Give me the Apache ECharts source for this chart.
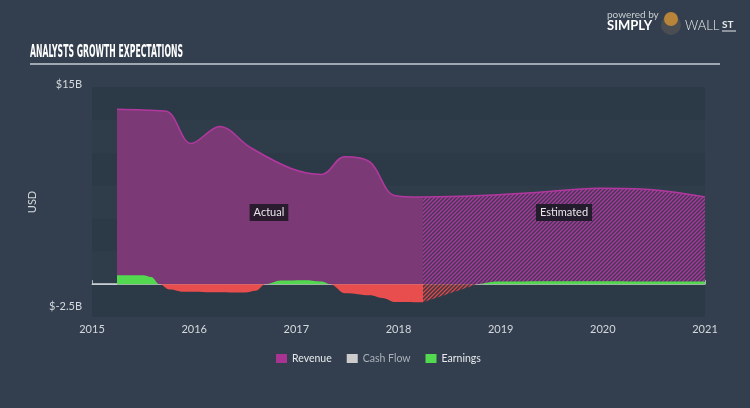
<!DOCTYPE html>
<html>
<head>
<meta charset="utf-8">
<script src="https://cdn.jsdelivr.net/npm/echarts@6/dist/echarts.min.js"></script>
<style>
html,body{margin:0;padding:0;background:#333f4e;}
#chart{width:750px;height:408px;}
</style>
</head>
<body>
<div id="chart"></div>
<script>
// ---- Data ----
const yearTicks = [2015, 2016, 2017, 2018, 2019, 2020, 2021];
const revenueActual = [
  [2015.245, 13.3], [2015.5, 13.25], [2015.73, 13.15], [2015.97, 10.7],
  [2016.25, 12.0], [2016.55, 10.4], [2016.95, 8.8], [2017.25, 8.35],
  [2017.47, 9.7], [2017.72, 9.3], [2017.96, 6.75], [2018.24, 6.63]
];
const revenueEstimated = [
  [2018.24, 6.63], [2018.7, 6.7], [2019.3, 6.95], [2019.97, 7.3], [2020.46, 7.2], [2021.0, 6.63]
];
const earningsActual = [
  [2015.245, 0.68], [2015.5, 0.68], [2015.58, 0.55], [2015.66, 0], [2015.76, -0.4],
  [2015.9, -0.58], [2016.2, -0.62], [2016.5, -0.64], [2016.6, -0.5], [2016.7, 0],
  [2016.85, 0.28], [2017.1, 0.3], [2017.25, 0.2], [2017.33, 0], [2017.48, -0.7],
  [2017.72, -0.85], [2017.84, -1.05], [2017.97, -1.36], [2018.24, -1.38]
];
const earningsEstimated = [
  [2018.24, -1.38], [2018.77, 0], [2018.95, 0.2], [2019.5, 0.22], [2020.0, 0.22], [2020.5, 0.2], [2021.0, 0.2]
];
const cashFlow = [];
const yTickLabels = { max: '$15B', min: '$-2.5B' };
const legendNames = ['Revenue', 'Cash Flow', 'Earnings'];
const titleText = 'ANALYSTS GROWTH EXPECTATIONS';

// ---- helpers ----
function hatch(bg, fg) {
  const c = document.createElement('canvas');
  c.width = 4; c.height = 4;
  const g = c.getContext('2d');
  g.fillStyle = bg; g.fillRect(0, 0, 4, 4);
  g.strokeStyle = fg; g.lineWidth = 1.3;
  g.beginPath();
  g.moveTo(0, 4); g.lineTo(4, 0);
  g.moveTo(-1, 1); g.lineTo(1, -1);
  g.moveTo(3, 5); g.lineTo(5, 3);
  g.stroke();
  return c;
}
const posPart = arr => arr.map(p => [p[0], Math.max(p[1], 0)]);
const negPart = arr => arr.map(p => [p[0], Math.min(p[1], 0)]);

const titleFont = 'bold 17px "Liberation Sans Narrow", "DejaVu Sans Condensed", sans-serif';
const mctx = document.createElement('canvas').getContext('2d');
mctx.font = titleFont;
const titleScale = 153 / mctx.measureText(titleText).width;

const C = {
  revLine: '#b2389f', revFill: '#7b3a75', green: '#52d94f', red: '#e84e4e',
  text: '#d3d8dd'
};

const chart = echarts.init(document.getElementById('chart'), null, { renderer: 'canvas' });
chart.setOption({
  backgroundColor: '#333f4e',
  animation: false,
  textStyle: { fontFamily: 'Lato, sans-serif' },
  grid: { left: 92, right: 45, top: 87, bottom: 91 },
  legend: {
    left: 271, top: 348,
    icon: 'rect', itemWidth: 11, itemHeight: 9, itemGap: 15,
    textStyle: { color: '#e6e9ec', fontSize: 10.5, fontFamily: 'Lato, sans-serif' },
    data: [
      { name: legendNames[0] },
      { name: legendNames[1], textStyle: { color: '#a9b1b9' } },
      { name: legendNames[2] }
    ],
    selectedMode: false
  },
  xAxis: {
    type: 'value', min: yearTicks[0], max: yearTicks[yearTicks.length - 1], interval: 1,
    axisLine: { lineStyle: { color: '#a9b3bd', width: 1 } },
    axisTick: { inside: true, length: 4, lineStyle: { color: '#a9b3bd' } },
    splitLine: { show: false },
    axisLabel: { color: C.text, fontSize: 11, margin: 7, formatter: v => String(v) }
  },
  yAxis: {
    type: 'value', min: -2.5, max: 15, interval: 2.5,
    name: 'USD', nameLocation: 'middle', nameRotate: 90, nameGap: 24,
    nameTextStyle: { color: C.text, fontSize: 11 },
    axisLine: { show: false }, axisTick: { show: false },
    splitLine: { show: false },
    splitArea: { show: true, areaStyle: { color: ['#2c3947', '#2f3c4a'] } },
    axisLabel: {
      margin: 10, color: C.text, fontSize: 11,
      formatter: v => v === 15 ? '{t|' + yTickLabels.max + '}' : (v === -2.5 ? '{b|' + yTickLabels.min + '}' : ''),
      rich: {
        t: { color: C.text, fontSize: 11, padding: [0, 0, 6, 0] },
        b: { color: C.text, fontSize: 11, padding: [0, 0, 22, 0] }
      }
    }
  },
  series: [
    {
      name: 'zero', type: 'line', data: [], z: 1, silent: true,
      markLine: {
        z: 1, silent: true, symbol: 'none', label: { show: false },
        lineStyle: { color: '#d0d5da', width: 1.5, type: 'solid' },
        data: [{ yAxis: 0 }]
      }
    },
    {
      name: 'Revenue', type: 'line', data: revenueActual, z: 2,
      smooth: 0.35, showSymbol: false, symbol: 'none',
      itemStyle: { color: '#a93391' },
      lineStyle: { color: C.revLine, width: 1.5 },
      areaStyle: { color: C.revFill, opacity: 1 },
      markPoint: {
        symbol: 'rect', symbolSize: 1, itemStyle: { color: 'rgba(0,0,0,0)' },
        label: {
          show: true, position: 'inside', color: '#e8e8ea', fontSize: 11,
          backgroundColor: '#2a1b2f', padding: [3, 4, 3, 4]
        },
        data: [{ coord: [2016.732, 5.45], value: 'Actual', label: { formatter: 'Actual' } }]
      }
    },
    {
      name: 'Revenue', type: 'line', data: revenueEstimated, z: 2,
      smooth: 0.35, showSymbol: false, symbol: 'none',
      itemStyle: { color: '#a93391' },
      lineStyle: { color: C.revLine, width: 1.5 },
      areaStyle: { color: { image: hatch('#4a3456', '#a83c9e'), repeat: 'repeat' }, opacity: 1 },
      markPoint: {
        symbol: 'rect', symbolSize: 1, itemStyle: { color: 'rgba(0,0,0,0)' },
        label: {
          show: true, position: 'inside', color: '#e8e8ea', fontSize: 11,
          backgroundColor: '#231c2d', padding: [3, 4, 3, 4]
        },
        data: [{ coord: [2019.62, 5.45], value: 'Estimated', label: { formatter: 'Estimated' } }]
      }
    },
    {
      name: 'Cash Flow', type: 'line', data: cashFlow, z: 3, showSymbol: false,
      itemStyle: { color: '#cccccc' }, lineStyle: { color: '#cccccc' }
    },
    {
      name: 'Earnings', type: 'line', data: negPart(earningsActual), z: 3,
      smooth: 0.4, smoothMonotone: 'x', showSymbol: false, symbol: 'none',
      itemStyle: { color: C.green },
      lineStyle: { width: 0 },
      areaStyle: { color: C.red, opacity: 1 }
    },
    {
      name: 'Earnings', type: 'line', data: posPart(earningsActual), z: 3,
      smooth: 0.4, smoothMonotone: 'x', showSymbol: false, symbol: 'none',
      itemStyle: { color: C.green },
      lineStyle: { width: 0 },
      areaStyle: { color: C.green, opacity: 1 }
    },
    {
      name: 'Earnings', type: 'line', data: negPart(earningsEstimated), z: 3,
      smooth: false, showSymbol: false, symbol: 'none',
      itemStyle: { color: C.green },
      lineStyle: { width: 0 },
      areaStyle: { color: { image: hatch('#3e3545', '#d84c4c'), repeat: 'repeat' }, opacity: 1 }
    },
    {
      name: 'Earnings', type: 'line', data: posPart(earningsEstimated), z: 3,
      smooth: 0.3, smoothMonotone: 'x', showSymbol: false, symbol: 'none',
      itemStyle: { color: C.green },
      lineStyle: { width: 0 },
      areaStyle: { color: C.green, opacity: 1 }
    }
  ],
  graphic: [
    {
      type: 'text', x: 30, y: 53, scaleX: titleScale, silent: true,
      style: { text: titleText, font: titleFont, fill: '#ffffff', textVerticalAlign: 'middle' }
    },
    {
      type: 'line', silent: true,
      shape: { x1: 30, y1: 64, x2: 720, y2: 64 },
      style: { stroke: '#c5ccd3', lineWidth: 1.5 }
    },
    {
      type: 'text', x: 607, y: 15, silent: true,
      style: { text: 'powered by', font: '10px Lato, sans-serif', fill: '#c8cdd2', textVerticalAlign: 'middle' }
    },
    {
      type: 'text', x: 607, y: 26, silent: true,
      style: { text: 'SIMPLY', font: 'bold 13px Lato, sans-serif', fill: '#ffffff', textVerticalAlign: 'middle' }
    },
    {
      type: 'circle', silent: true, shape: { cx: 671, cy: 25, r: 10 },
      style: { fill: '#4a4d52' }
    },
    {
      type: 'circle', silent: true, shape: { cx: 671, cy: 19, r: 7 },
      style: { fill: '#b8843a' }
    },
    {
      type: 'text', x: 685, y: 26, silent: true,
      style: { text: 'WALL', font: '300 13px Lato, sans-serif', fill: '#e8eaec', textVerticalAlign: 'middle' }
    },
    {
      type: 'text', x: 722, y: 25, silent: true,
      style: { text: 'ST', font: 'bold 10px Lato, sans-serif', fill: '#e8eaec', textVerticalAlign: 'middle' }
    },
    {
      type: 'line', silent: true,
      shape: { x1: 722, y1: 31, x2: 736, y2: 31 },
      style: { stroke: '#e8eaec', lineWidth: 1 }
    }
  ]
});
</script>
</body>
</html>
